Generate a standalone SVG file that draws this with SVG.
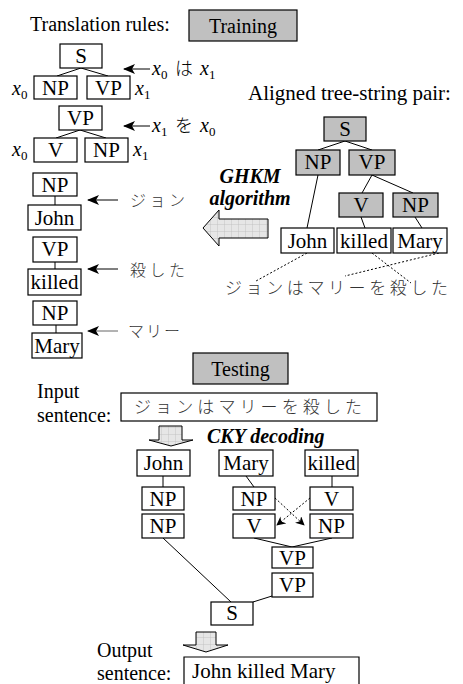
<svg xmlns="http://www.w3.org/2000/svg" width="463" height="684" viewBox="0 0 463 684" font-family="Liberation Serif, DejaVu Serif, serif">
<defs>
<style>
.t{font-size:20px;fill:#000}
.n{font-size:21px;text-anchor:middle;fill:#000}
.bi{font-size:20px;font-weight:bold;font-style:italic;fill:#000}
.v{font-size:20px;font-style:italic;fill:#000}
.jp{font-family:"Noto Sans CJK JP","Noto Sans CJK SC",sans-serif;font-size:16px;fill:#333;font-weight:300}
.sub{font-size:13px;font-style:normal}
.box{fill:#fff;stroke:#000;stroke-width:1.2}
.gbox{fill:#c0c0c0;stroke:#000;stroke-width:1.2}
.ln{stroke:#000;stroke-width:1;fill:none}
.dot{stroke:#000;stroke-width:1;stroke-dasharray:2 2;fill:none}
.ar{stroke:#000;stroke-width:1;fill:none;marker-end:url(#head)}
.fat{fill:url(#grid);stroke:#000;stroke-width:1}
</style>
<marker id="head" viewBox="0 0 12 10" refX="11" refY="5" markerWidth="12" markerHeight="10" markerUnits="userSpaceOnUse" orient="auto">
<path d="M12,5 L0,0 L3,5 L0,10 z" fill="#000"/>
</marker>
<marker id="dh" viewBox="0 0 10 10" refX="9" refY="5" markerWidth="9" markerHeight="9" markerUnits="userSpaceOnUse" orient="auto">
<path d="M0,0 L10,5 L0,10 L3,5 z" fill="#000"/>
</marker>
<pattern id="grid" width="7" height="7" patternUnits="userSpaceOnUse">
<rect width="7" height="7" fill="#e6e6e6"/>
<path d="M0,0 H7 M0,0 V7" stroke="#bdbdbd" stroke-width="0.8"/>
</pattern>
</defs>

<g id="labels">
<text class="t" x="30" y="31">Translation rules:</text>
<text class="t" x="248" y="100" style="font-size:21px">Aligned tree-string pair:</text>
<text class="bi" x="250" y="183" text-anchor="middle">GHKM</text>
<text class="bi" x="250" y="205" text-anchor="middle">algorithm</text>
<text class="t" x="37" y="398">Input</text>
<text class="t" x="37" y="422">sentence:</text>
<text class="bi" x="207" y="443">CKY decoding</text>
<text class="t" x="97" y="657">Output</text>
<text class="t" x="97" y="680">sentence:</text>
</g>

<g id="training"><rect class="gbox" x="189" y="10" width="108" height="31"/><text class="t" x="243" y="33" text-anchor="middle">Training</text></g>
<g id="testing"><rect class="gbox" x="193" y="353" width="95" height="31"/><text class="t" x="240.5" y="376" text-anchor="middle">Testing</text></g>

<g id="connectors">
<path class="ln" d="M81,68 L57,76 M81,68 L108,76"/>
<path class="ln" d="M80,130 L56,138 M80,130 L106,138"/>
<path class="ln" d="M55,196 V205 M55,262 V269 M56,325 V333"/>
<line class="ar" x1="150" y1="69" x2="124" y2="69"/>
<line class="ar" x1="150" y1="126" x2="124" y2="126"/>
<line class="ar" x1="118" y1="200" x2="88" y2="200"/>
<line class="ar" x1="118" y1="269" x2="88" y2="269"/>
<line class="ar" x1="118" y1="331" x2="88" y2="331" style="stroke:#666"/>
<path class="ln" d="M345,141 L318,150 M345,141 L372,150"/>
<path class="ln" d="M372,175 L362,193 M372,175 L413,193"/>
<path class="ln" d="M318,175 L307,228 M361,217 L365,228 M415,217 L422,228"/>
<path class="dot" d="M307,253 L256,281 M372,253 L411,283 M439,253 L345,276"/>
<polygon class="fat" points="203,228 219,210 219,219 268,219 268,238 219,238 219,246"/>
<polygon class="fat" points="159,426 182,426 182,440 193,440 171,446 149,440 159,440"/>
<polygon class="fat" points="196,632 216,632 216,645 228,645 206,652 183,645 196,645"/>
<path class="ln" d="M163,476 V487 M246,476 L254,487 M332,476 V487"/>
<line class="dot" x1="275" y1="498" x2="304" y2="525" marker-end="url(#dh)"/>
<line class="dot" x1="310" y1="498" x2="277" y2="525" marker-end="url(#dh)"/>
<path class="ln" d="M254,538 L292,547 M332,538 L292,547"/>
<path class="ln" d="M163,538 L231,602 M272,596 L253,602"/>
</g>

<g id="rule-S-NP-VP">
<rect class="box" x="60" y="44" width="42" height="24"/><text class="n" x="81" y="63">S</text>
<rect class="box" x="34" y="76" width="43" height="23"/><text class="n" x="55.5" y="95">NP</text>
<rect class="box" x="87" y="76" width="43" height="23"/><text class="n" x="108.5" y="95">VP</text>
<text class="v" x="12" y="95">x<tspan class="sub" dy="4">0</tspan></text>
<text class="v" x="135" y="95">x<tspan class="sub" dy="4">1</tspan></text>
<text class="v" x="152" y="75">x<tspan class="sub" dy="4">0</tspan></text>
<text class="jp" x="175" y="75" style="fill:#000;font-size:18px">は</text>
<text class="v" x="200" y="75">x<tspan class="sub" dy="4">1</tspan></text>
</g>
<g id="rule-VP-V-NP">
<rect class="box" x="59" y="106" width="43" height="24"/><text class="n" x="80.5" y="125">VP</text>
<rect class="box" x="34" y="138" width="43" height="24"/><text class="n" x="55.5" y="157">V</text>
<rect class="box" x="85" y="138" width="43" height="24"/><text class="n" x="106.5" y="157">NP</text>
<text class="v" x="12" y="156">x<tspan class="sub" dy="4">0</tspan></text>
<text class="v" x="133" y="156">x<tspan class="sub" dy="4">1</tspan></text>
<text class="v" x="152" y="132">x<tspan class="sub" dy="4">1</tspan></text>
<text class="jp" x="175" y="132" style="fill:#000;font-size:18px">を</text>
<text class="v" x="200" y="132">x<tspan class="sub" dy="4">0</tspan></text>
</g>
<g id="rule-NP-John">
<rect class="box" x="33" y="173" width="44" height="23"/><text class="n" x="55" y="192">NP</text>
<rect class="box" x="28" y="205" width="53" height="25"/><text class="n" x="54.5" y="225">John</text>
<text class="jp" x="130" y="206" textLength="55" lengthAdjust="spacing">ジョン</text>
</g>
<g id="rule-VP-killed">
<rect class="box" x="33" y="237" width="44" height="25"/><text class="n" x="55" y="256">VP</text>
<rect class="box" x="28" y="269" width="53" height="26"/><text class="n" x="54.5" y="289">killed</text>
<text class="jp" x="130" y="276" textLength="55" lengthAdjust="spacing">殺した</text>
</g>
<g id="rule-NP-Mary">
<rect class="box" x="33" y="301" width="44" height="24"/><text class="n" x="55" y="320">NP</text>
<rect class="box" x="32" y="333" width="50" height="25"/><text class="n" x="57" y="353">Mary</text>
<text class="jp" x="128" y="337" textLength="52" lengthAdjust="spacing">マリー</text>
</g>

<g id="aligned-tree">
<rect class="gbox" x="324" y="117" width="42" height="24"/><text class="n" x="345" y="136">S</text>
<rect class="gbox" x="296" y="150" width="44" height="25"/><text class="n" x="318" y="169">NP</text>
<rect class="gbox" x="349" y="150" width="46" height="25"/><text class="n" x="372" y="169">VP</text>
<rect class="gbox" x="339" y="193" width="44" height="24"/><text class="n" x="361" y="212">V</text>
<rect class="gbox" x="393" y="193" width="45" height="24"/><text class="n" x="415.5" y="212">NP</text>
<rect class="box" x="281" y="228" width="53" height="25"/><text class="n" x="307.5" y="248">John</text>
<rect class="box" x="337" y="228" width="54" height="25"/><text class="n" x="364" y="248">killed</text>
<rect class="box" x="393" y="228" width="54" height="25"/><text class="n" x="420" y="248">Mary</text>
<text class="jp" x="225" y="294" textLength="223" lengthAdjust="spacing" style="font-size:17px">ジョンはマリーを殺した</text>
</g>

<g id="input">
<rect class="box" x="121" y="393" width="256" height="28"/>
<text class="jp" x="134" y="413" textLength="228" lengthAdjust="spacing" style="font-size:17px">ジョンはマリーを殺した</text>
</g>

<g id="cky-John"><rect class="box" x="137" y="450" width="53" height="26"/><text class="n" x="163.5" y="470">John</text></g>
<g id="cky-Mary"><rect class="box" x="219" y="450" width="54" height="26"/><text class="n" x="246" y="470">Mary</text></g>
<g id="cky-killed"><rect class="box" x="305" y="450" width="53" height="26"/><text class="n" x="331.5" y="470">killed</text></g>
<g id="cky-NP1"><rect class="box" x="142" y="487" width="42" height="23"/><text class="n" x="163" y="506">NP</text></g>
<g id="cky-NP2"><rect class="box" x="142" y="514" width="42" height="24"/><text class="n" x="163" y="533">NP</text></g>
<g id="cky-NP3"><rect class="box" x="233" y="487" width="42" height="23"/><text class="n" x="254" y="506">NP</text></g>
<g id="cky-V1"><rect class="box" x="310" y="487" width="43" height="23"/><text class="n" x="331.5" y="506">V</text></g>
<g id="cky-V2"><rect class="box" x="233" y="514" width="42" height="24"/><text class="n" x="254" y="533">V</text></g>
<g id="cky-NP4"><rect class="box" x="310" y="514" width="43" height="24"/><text class="n" x="331.5" y="533">NP</text></g>
<g id="cky-VP1"><rect class="box" x="272" y="547" width="41" height="21"/><text class="n" x="292.5" y="565">VP</text></g>
<g id="cky-VP2"><rect class="box" x="272" y="573" width="41" height="24"/><text class="n" x="292.5" y="592">VP</text></g>
<g id="cky-S"><rect class="box" x="211" y="602" width="42" height="23"/><text class="n" x="232" y="620">S</text></g>

<g id="output">
<path class="ln" d="M184,690 V657 H359 V690" style="stroke-width:1.2"/>
<text class="t" x="192" y="678" style="font-size:21px">John killed Mary</text>
</g>
</svg>
